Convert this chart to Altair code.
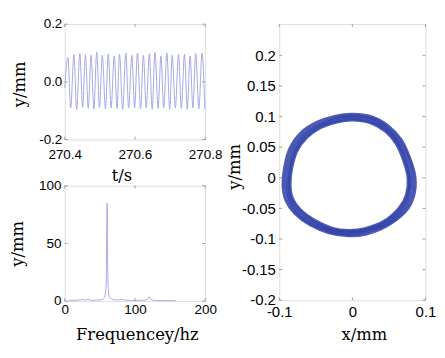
import altair as alt
import pandas as pd

# ---------------- data ----------------
# time signal: alternating extremes (s, mm)
ts_t = [270.400, 270.409, 270.417, 270.426, 270.434, 270.443, 270.451, 270.459, 270.467,
        270.475, 270.483, 270.491, 270.499, 270.507, 270.516, 270.524, 270.532, 270.541,
        270.549, 270.556, 270.565, 270.574, 270.582, 270.591, 270.599, 270.607, 270.616,
        270.624, 270.632, 270.641, 270.649, 270.657, 270.666, 270.674, 270.682, 270.691,
        270.699, 270.706, 270.715, 270.724, 270.732, 270.741, 270.749, 270.757, 270.765,
        270.773, 270.782, 270.791, 270.799]
ts_y = [-0.020, 0.085, -0.090, 0.095, -0.095, 0.098, -0.088, 0.094, -0.092,
        0.092, -0.095, 0.103, -0.090, 0.092, -0.093, 0.097, -0.090, 0.090,
        -0.092, 0.095, -0.095, 0.100, -0.090, 0.092, -0.090, 0.100, -0.093,
        0.092, -0.090, 0.097, -0.095, 0.102, -0.092, 0.090, -0.090, 0.100,
        -0.095, 0.092, -0.090, 0.095, -0.092, 0.095, -0.095, 0.090, -0.090,
        0.098, -0.093, 0.100, -0.095]

# spectrum (Hz, amplitude)
sp_f = [5, 10, 15, 20, 25, 30, 33, 36, 40, 45, 50, 54, 56, 57, 58, 59, 59.6, 60.3, 61, 61.6,
        62.5, 63.5, 65, 68, 72, 76, 80, 85, 90, 95, 100, 105, 110, 115, 118, 120.5, 123,
        126, 130, 135, 140, 145, 150, 155, 158]
sp_a = [0.5, 0.8, 0.6, 1.0, 1.4, 0.8, 1.6, 0.9, 0.7, 0.9, 1.0, 1.5, 2.5, 4, 7, 14, 45, 85, 38, 14,
        6, 4, 2.5, 1.5, 1.2, 1.0, 1.8, 1.0, 0.8, 0.7, 0.6, 0.7, 0.8, 0.9, 1.5, 4.0, 1.3,
        0.8, 0.6, 0.5, 0.6, 0.5, 0.4, 0.5, 0.4]

# orbit: several traced passes (mm)
orb_x_outer = [0.000, 0.026, 0.049, 0.067, 0.079, 0.086, 0.084, 0.073, 0.047, 0.019, -0.005,
               -0.032, -0.058, -0.079, -0.091, -0.095, -0.093, -0.086, -0.070, -0.048, -0.023]
orb_y_outer = [0.104, 0.100, 0.085, 0.062, 0.031, 0.000, -0.030, -0.055, -0.079, -0.092, -0.095,
               -0.090, -0.077, -0.058, -0.037, -0.013, 0.016, 0.047, 0.074, 0.091, 0.101]
orb_x_mid1 = [0.000, 0.026, 0.048, 0.065, 0.077, 0.083, 0.081, 0.070, 0.046, 0.018, -0.005,
              -0.031, -0.057, -0.077, -0.088, -0.092, -0.090, -0.083, -0.067, -0.046, -0.022]
orb_y_mid1 = [0.101, 0.097, 0.082, 0.060, 0.031, 0.000, -0.029, -0.054, -0.077, -0.089, -0.093,
              -0.088, -0.075, -0.057, -0.036, -0.012, 0.015, 0.046, 0.072, 0.088, 0.098]
orb_x_mid = [0.000, 0.025, 0.047, 0.063, 0.074, 0.080, 0.078, 0.068, 0.045, 0.018, -0.005,
             -0.030, -0.055, -0.075, -0.086, -0.089, -0.087, -0.080, -0.065, -0.045, -0.022]
orb_y_mid = [0.099, 0.095, 0.080, 0.058, 0.030, 0.000, -0.028, -0.052, -0.075, -0.087, -0.090,
             -0.086, -0.073, -0.055, -0.035, -0.012, 0.015, 0.045, 0.070, 0.086, 0.096]
orb_x_mid2 = [0.000, 0.024, 0.046, 0.062, 0.072, 0.078, 0.076, 0.066, 0.044, 0.017, -0.005,
              -0.029, -0.053, -0.073, -0.084, -0.087, -0.085, -0.078, -0.063, -0.044, -0.021]
orb_y_mid2 = [0.096, 0.092, 0.078, 0.056, 0.029, 0.000, -0.027, -0.050, -0.073, -0.085, -0.088,
              -0.084, -0.071, -0.053, -0.034, -0.011, 0.014, 0.044, 0.068, 0.084, 0.093]
orb_x_inner = [0.000, 0.024, 0.045, 0.060, 0.070, 0.076, 0.074, 0.064, 0.043, 0.017, -0.005,
               -0.028, -0.052, -0.071, -0.082, -0.085, -0.083, -0.076, -0.062, -0.043, -0.021]
orb_y_inner = [0.094, 0.090, 0.076, 0.055, 0.028, 0.000, -0.027, -0.049, -0.071, -0.083, -0.086,
               -0.082, -0.069, -0.052, -0.033, -0.011, 0.014, 0.043, 0.066, 0.082, 0.091]

# tick values
tl_xticks = [270.4, 270.6, 270.8]
tl_yticks = [-0.2, 0.0, 0.2]
bl_xticks = [0, 100, 200]
bl_yticks = [0, 50, 100]
r_xticks = [-0.1, 0.0, 0.1]
r_yticks = [-0.2, -0.15, -0.1, -0.05, 0.0, 0.05, 0.1, 0.15, 0.2]

# ---------------- styling ----------------
LBL_FONT = "Liberation Sans"
TTL_FONT = "DejaVu Serif"
TICK_COL = "#9a9a9a"
FRAME_COL = "#b0b0b0"


def fmt_expr(f):
    return "replace(format(datum.value, '%s'), '\u2212', '-')" % f


def ax(values, f, lsize, lpad, title, tx, ty, angle=0):
    return alt.Axis(values=values, labelExpr=fmt_expr(f), labelFont=LBL_FONT,
                    labelFontSize=lsize, labelColor="black", labelPadding=lpad,
                    labelFlush=False, labelOverlap=False, ticks=False, tickSize=0,
                    domain=False, grid=False, title=title, titleFont=TTL_FONT,
                    titleFontSize=17, titleFontWeight="normal", titleColor="black",
                    titleX=tx, titleY=ty, titleAngle=angle, titleBaseline="middle",
                    titleAlign="center")


def inward_ticks(xvals, yvals, xscale, yscale, xaxis, yaxis, w, h, L=3):
    dx = pd.DataFrame({"xt": xvals})
    dy = pd.DataFrame({"yt": yvals})
    layers = []
    for y0, y1 in [(h - L, h), (0, L)]:
        layers.append(alt.Chart(dx).mark_rule(color=TICK_COL, strokeWidth=1).encode(
            x=alt.X("xt:Q", scale=xscale, axis=xaxis),
            y=alt.value(y0), y2=alt.value(y1)))
    for x0, x1 in [(0, L), (w - L, w)]:
        layers.append(alt.Chart(dy).mark_rule(color=TICK_COL, strokeWidth=1).encode(
            y=alt.Y("yt:Q", scale=yscale, axis=yaxis),
            x=alt.value(x0), x2=alt.value(x1)))
    return layers


# ---------------- top-left: time signal ----------------
W1, H1 = 146, 120
sx1 = alt.Scale(domain=[270.4, 270.8], nice=False, zero=False)
sy1 = alt.Scale(domain=[-0.2, 0.2], nice=False)
ax1x = ax(tl_xticks, ".1f", 14, 9, "t/s", 59, 38)
ax1y = ax(tl_yticks, ".1f", 14, 3, "y/mm", -47, 62, 270)
df_ts = pd.DataFrame({"t": ts_t, "y": ts_y})
ts_line = alt.Chart(df_ts).mark_line(color="#a4a4e6", strokeWidth=1, interpolate="monotone").encode(
    x=alt.X("t:Q", scale=sx1, axis=ax1x),
    y=alt.Y("y:Q", scale=sy1, axis=ax1y),
)
tl = alt.layer(ts_line, *inward_ticks(tl_xticks, tl_yticks, sx1, sy1, ax1x, ax1y, W1, H1)).properties(
    width=W1, height=H1)

# ---------------- bottom-left: spectrum ----------------
W2, H2 = 146, 120
sx2 = alt.Scale(domain=[0, 200], nice=False)
sy2 = alt.Scale(domain=[0, 100], nice=False)
ax2x = ax(bl_xticks, "d", 14, 2, "Frequencey/hz", 75, 35)
ax2y = ax(bl_yticks, "d", 14, 4, "y/mm", -49, 60, 270)
df_sp = pd.DataFrame({"f": sp_f, "a": sp_a})
sp_line = alt.Chart(df_sp).mark_line(color="#a8a8ea", strokeWidth=1).encode(
    x=alt.X("f:Q", scale=sx2, axis=ax2x),
    y=alt.Y("a:Q", scale=sy2, axis=ax2y),
)
bl = alt.layer(sp_line, *inward_ticks(bl_xticks, bl_yticks, sx2, sy2, ax2x, ax2y, W2, H2)).properties(
    width=W2, height=H2)

# ---------------- right: orbit ----------------
W3, H3 = 152, 287
sx3 = alt.Scale(domain=[-0.1, 0.1], nice=False)
sy3 = alt.Scale(domain=[-0.2, 0.251], nice=False)
ax3x = ax(r_xticks, ".1~f", 15.5, 5, "x/mm", 88, 36)
ax3y = ax(r_yticks, ".2~f", 15.5, 4, "y/mm", -46, 148, 270)
rows = []
for name, xs, ys in [("outer", orb_x_outer, orb_y_outer), ("mid1", orb_x_mid1, orb_y_mid1),
                     ("mid", orb_x_mid, orb_y_mid), ("mid2", orb_x_mid2, orb_y_mid2),
                     ("inner", orb_x_inner, orb_y_inner)]:
    for i, (a, b) in enumerate(zip(xs, ys)):
        rows.append({"loop": name, "i": i, "x": a, "y": b})
df_orb = pd.DataFrame(rows)
orb = alt.Chart(df_orb).mark_line(color="#2f40a8", strokeWidth=2.8, opacity=0.85,
                                  interpolate="cardinal-closed").encode(
    x=alt.X("x:Q", scale=sx3, axis=ax3x),
    y=alt.Y("y:Q", scale=sy3, axis=ax3y),
    detail="loop:N",
    order="i:Q",
)
rt = alt.layer(orb, *inward_ticks(r_xticks, r_yticks, sx3, sy3, ax3x, ax3y, W3, H3)).properties(
    width=W3, height=H3)

left = alt.vconcat(tl, bl, spacing=48, bounds="flush")
chart = alt.hconcat(left, rt, spacing=2, bounds="full").properties(
    padding={"left": 0, "top": 2, "right": 0, "bottom": 0}
).configure_view(stroke=FRAME_COL, strokeWidth=1).configure(background="white")

chart.save("out.html", embed_options={"renderer": "svg", "actions": False})
